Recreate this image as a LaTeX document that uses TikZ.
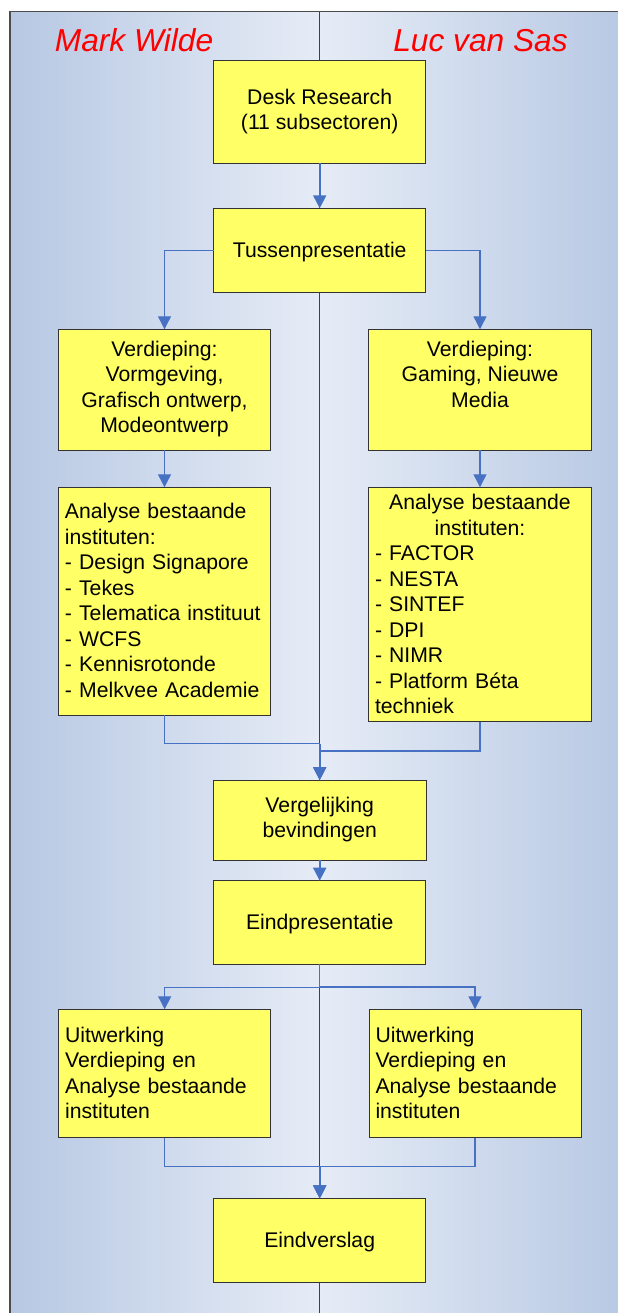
\documentclass[tikz,border=0pt]{standalone}
\usepackage{fontspec}
\setmainfont{Liberation Sans}
\usetikzlibrary{arrows.meta}
\definecolor{laneDark}{RGB}{183,200,227}
\definecolor{laneLight}{RGB}{230,236,246}
\definecolor{boxYellow}{RGB}{255,255,102}
\definecolor{connBlue}{RGB}{71,114,196}
\definecolor{laneRed}{RGB}{255,0,0}
\newcommand\boxstrut{\rule[-5.75bp]{0pt}{25.5bp}}
\begin{document}
\begin{tikzpicture}[x=1bp,y=-1bp,
  flowbox/.style={draw=black!80, fill=boxYellow, line width=0.9bp, inner sep=0pt, outer sep=0pt,
     font=\fontsize{21.2bp}{25.5bp}\selectfont, align=center,
     execute at begin node=\boxstrut, execute at end node=\boxstrut},
  listbox/.style={flowbox, align=left},
  lanetitle/.style={text=laneRed, font=\fontsize{31.7bp}{36bp}\selectfont\itshape, anchor=base, inner sep=0pt},
  mainconn/.style={draw=connBlue, line width=2bp, -{Triangle[width=13bp,length=13bp]}},
  sideconn/.style={draw=connBlue, line width=1.2bp, -{Triangle[width=13bp,length=13bp]}},
]
\useasboundingbox (0,0) rectangle (618,1313);
% swimlane background
\shade[left color=laneDark, right color=laneLight] (10,11.7) rectangle (319.7,1320);
\shade[left color=laneLight, right color=laneDark] (319.7,11.7) rectangle (630,1320);
\draw[black!70, line width=1.3bp] (10,1320) -- (10,11.7) -- (630,11.7);
\draw[black!75, line width=1.2bp] (319.7,11.7) -- (319.7,1320);

% lane titles
\node[lanetitle] (markw) at (134,51.7) {Mark Wilde};
\node[lanetitle] (lucs) at (480.5,51.7) {Luc van Sas};

% boxes
\node[flowbox, minimum width=212.1bp, minimum height=102.6bp] (desk) at (319.7,112) {Desk Research\\(11 subsectoren)};
\node[flowbox, minimum width=212.1bp, minimum height=84bp] (tussen) at (319.7,250.3) {Tussenpresentatie};
\node[flowbox, minimum width=212.4bp, minimum height=120.7bp] (verdL) at (164.5,389.65) {Verdieping:\\Vormgeving,\\Grafisch ontwerp,\\Modeontwerp};
\node[flowbox, minimum width=223.4bp, minimum height=120.7bp] (verdR) at (480,389.65) {Verdieping:\\Gaming, Nieuwe\\Media\\};
\node[listbox, text width=199bp, minimum width=212.4bp, minimum height=227.7bp] (anaL) at (164.5,601.15)
  {Analyse bestaande\\instituten:\\- Design Signapore\\- Tekes\\- Telematica instituut\\- WCFS\\- Kennisrotonde\\- Melkvee Academie};
\node[listbox, text width=210bp, minimum width=223.4bp, minimum height=234.4bp] (anaR) at (480,604.5)
  {\makebox[210bp][c]{Analyse bestaande}\\\makebox[210bp][c]{instituten:}\\- FACTOR\\- NESTA\\- SINTEF\\- DPI\\- NIMR\\- Platform Béta\\techniek};
\node[flowbox, minimum width=212.7bp, minimum height=80bp] (verg) at (319.7,820) {Vergelijking\\bevindingen};
\node[flowbox, minimum width=212.1bp, minimum height=83.6bp] (eindp) at (319.7,922.5) {Eindpresentatie};
\node[listbox, text width=199bp, minimum width=212.1bp, minimum height=128.4bp] (uitL) at (164.65,1073.5)
  {Uitwerking\\Verdieping en\\Analyse bestaande\\instituten};
\node[listbox, text width=199bp, minimum width=212bp, minimum height=128.4bp] (uitR) at (475,1073.5)
  {Uitwerking\\Verdieping en\\Analyse bestaande\\instituten};
\node[flowbox, minimum width=212.1bp, minimum height=84bp] (eindv) at (319.7,1240.3) {Eindverslag};

% connectors
\draw[mainconn] (desk.south) -- (tussen.north);
\draw[sideconn] (tussen.west) -| (verdL.north);
\draw[sideconn] (tussen.east) -| (verdR.north);
\draw[sideconn] (verdL.south) -- (anaL.north);
\draw[sideconn] (verdR.south) -- (anaR.north);
\draw[sideconn] (anaL.south) -- ++(0,28.3) -| (verg.north);
\draw[sideconn] (anaR.south) -- ++(0,29.3) -| (verg.north);
\draw[mainconn] ([yshift=36bp]verg.north) -- (verg.north);
\draw[mainconn] (verg.south) -- (eindp.north);
\draw[sideconn] (eindp.south) -- ++(0,23.4) -| (uitL.north);
\draw[sideconn] (eindp.south) -- ++(0,22.6) -| (uitR.north);
\draw[sideconn] (uitL.south) -- ++(0,28.6) -| (eindv.north);
\draw[sideconn] (uitR.south) -- ++(0,28.6) -| (eindv.north);
\draw[mainconn] ([yshift=32bp]eindv.north) -- (eindv.north);
\end{tikzpicture}
\end{document}
